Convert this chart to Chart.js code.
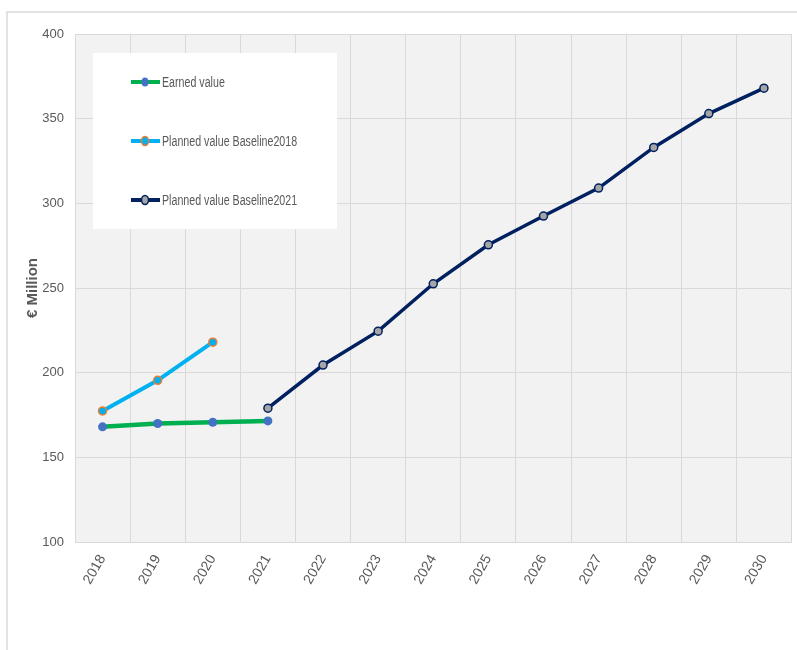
<!DOCTYPE html>
<html>
<head>
<meta charset="utf-8">
<script src="https://cdn.jsdelivr.net/npm/chart.js@4"></script>
<style>
  html, body { margin: 0; padding: 0; background: #fff; }
  #wrap { width: 797px; height: 650px; position: relative; }
</style>
</head>
<body>
<div id="wrap"><canvas id="evChart"></canvas></div>
<script>
const years = ['2018', '2019', '2020', '2021', '2022', '2023', '2024', '2025', '2026', '2027', '2028', '2029', '2030'];
const earnedValue = [168, 170, 170.7, 171.5, null, null, null, null, null, null, null, null, null];
const plannedBaseline2018 = [177.4, 195.5, 218, null, null, null, null, null, null, null, null, null, null];
const plannedBaseline2021 = [null, null, null, 179, 204.5, 224.5, 252.5, 275.5, 292.5, 309, 333, 353, 368];
const yTicks = [100, 150, 200, 250, 300, 350, 400];

const FONT = "'Liberation Sans Narrow', 'Liberation Sans', Arial, sans-serif";
const GRID = '#d9d9d9';

// frame, plot background and the boxed legend
const excelLook = {
    id: 'excelLook',
    beforeDraw(chart) {
        const { ctx, chartArea: a } = chart;
        ctx.save();
        ctx.strokeStyle = GRID;
        ctx.lineWidth = 1.5;
        ctx.beginPath();
        ctx.moveTo(7, chart.height);
        ctx.lineTo(7, 12);
        ctx.lineTo(chart.width, 12);
        ctx.stroke();
        ctx.fillStyle = '#f2f2f2';
        ctx.fillRect(a.left, a.top, a.right - a.left, a.bottom - a.top);
        ctx.restore();
    },
    afterDatasetsDraw(chart) {
        const { ctx } = chart;
        ctx.save();
        ctx.fillStyle = '#ffffff';
        ctx.fillRect(93, 53, 244, 176);
        const rows = [82, 141, 200];
        chart.data.datasets.forEach((ds, i) => {
            const y = rows[i];
            ctx.strokeStyle = ds.borderColor;
            ctx.lineWidth = 4;
            ctx.beginPath();
            ctx.moveTo(131, y);
            ctx.lineTo(160, y);
            ctx.stroke();
            ctx.beginPath();
            ctx.ellipse(145, y, 3.5, 4.5, 0, 0, Math.PI * 2);
            ctx.fillStyle = ds.pointBackgroundColor;
            ctx.fill();
            if (ds.pointBorderWidth) {
                ctx.lineWidth = 1.5;
                ctx.strokeStyle = ds.pointBorderColor;
                ctx.stroke();
            }
            // squeeze the text a bit, the original uses a narrow font
            ctx.save();
            ctx.translate(162, y + 1);
            ctx.scale(0.82, 1.08);
            ctx.fillStyle = '#595959';
            ctx.font = '13px ' + FONT;
            ctx.textBaseline = 'middle';
            ctx.fillText(ds.label, 0, 0);
            ctx.restore();
        });
        ctx.restore();
    }
};

new Chart(document.getElementById('evChart'), {
    type: 'line',
    data: {
        labels: years,
        datasets: [
            {
                label: 'Earned value',
                data: earnedValue,
                borderColor: '#00b050',
                borderWidth: 4.5,
                pointBackgroundColor: '#4472c4',
                pointBorderColor: '#4472c4',
                pointBorderWidth: 0,
                pointRadius: 4.5
            },
            {
                label: 'Planned value Baseline2018',
                data: plannedBaseline2018,
                borderColor: '#00b0f0',
                borderWidth: 4,
                pointBackgroundColor: '#00b0f0',
                pointBorderColor: '#ed7d31',
                pointBorderWidth: 1.5,
                pointRadius: 4
            },
            {
                label: 'Planned value Baseline2021',
                data: plannedBaseline2021,
                borderColor: '#002060',
                borderWidth: 3.5,
                pointBackgroundColor: '#a5a5a5',
                pointBorderColor: '#002060',
                pointBorderWidth: 1.5,
                pointRadius: 4
            }
        ]
    },
    options: {
        responsive: true,
        maintainAspectRatio: false,
        animation: false,
        spanGaps: false,
        layout: { padding: { top: 34, right: 3, left: 0, bottom: 0 } },
        plugins: { legend: { display: false }, tooltip: { enabled: false } },
        scales: {
            x: {
                offset: true,
                grid: { color: GRID, offset: true, drawTicks: false },
                border: { color: GRID },
                ticks: {
                    color: '#595959',
                    font: { family: FONT, size: 14 },
                    minRotation: 60,
                    maxRotation: 60,
                    padding: 10
                },
                afterFit(scale) { scale.height = 108; }
            },
            y: {
                min: 100,
                max: 400,
                afterBuildTicks(scale) { scale.ticks = yTicks.map(v => ({ value: v })); },
                grid: { color: GRID, drawTicks: false },
                border: { color: GRID },
                ticks: {
                    color: '#595959',
                    font: { family: FONT, size: 13 },
                    padding: 11
                },
                title: {
                    display: true,
                    text: '€ Million',
                    color: '#595959',
                    font: { family: FONT, size: 15, weight: 'bold' },
                    padding: { top: 24, bottom: 0 }
                },
                afterFit(scale) { scale.width = 75; }
            }
        }
    },
    plugins: [excelLook]
});
</script>
</body>
</html>
